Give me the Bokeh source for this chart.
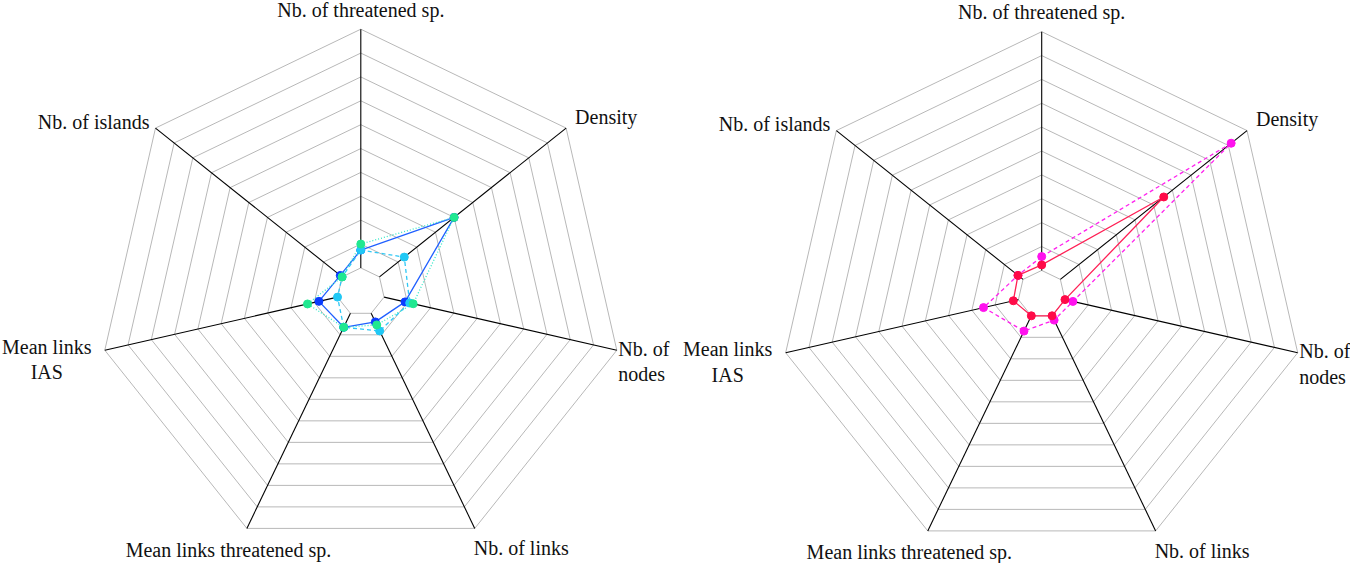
import math
from bokeh.plotting import figure
from bokeh.models import Range1d
from bokeh.layouts import row
from bokeh.embed import file_html
from bokeh.resources import INLINE
from bokeh.core.properties import value

# ---------------- data ----------------
axis_labels = ["Nb. of threatened sp.", "Density", "Nb. of\nnodes", "Nb. of links",
               "Mean links threatened sp.", "Mean links\nIAS", "Nb. of islands"]
n_rings = 10  # grid steps between hub and outer ring

# left panel (values on 0-10 scale, 0 = hub)
left_blue = [0.75, 4.0, 0.9, 0.4, 0.65, 0.8, 0.1]
left_cyan = [0.75, 1.33, 1.1, 0.82, 0.65, 0.0, 0.0]
left_green = [1.0, 4.0, 1.25, 0.54, 0.65, 1.29, 0.0]

# right panel
right_magenta = [0.58, 9.15, 0.34, 0.2, 0.71, 1.5, 0.27]
right_red = [0.23, 5.54, 0.0, 0.0, 0.0, 0.22, 0.27]

# ---------------- layout ----------------
W, H = 675, 563
S = 262.6 / 11.0   # px per ring unit
FONT = "Liberation Serif"
N = len(axis_labels)
ang = [2 * math.pi * k / N for k in range(N)]

# label placement: (align, baseline, dx px, dy px)
label_style = [
    ("center", "alphabetic", 0, -19.7),
    ("left", "alphabetic", 9, -11.4),
    ("left", "top", 1.5, -12.5),
    ("left", "alphabetic", -1, 20),
    ("center", "alphabetic", -18.4, 21.5),
    ("center", "top", -58, -14.5),
    ("right", "alphabetic", -6, -6.4),
]


def pol(r, k):
    return r * math.sin(ang[k]), r * math.cos(ang[k])


def make_panel(cx, cy, series):
    p = figure(width=W, height=H, output_backend="svg", toolbar_location=None,
               x_range=Range1d(-cx / S, (W - cx) / S),
               y_range=Range1d(-(H - cy) / S, cy / S),
               min_border=0, outline_line_color=None)
    p.axis.visible = False
    p.grid.visible = False
    p.background_fill_color = "white"
    # grid heptagons
    xs, ys = [], []
    for ring in range(1, n_rings + 2):
        pts = [pol(ring, k) for k in range(N)] + [pol(ring, 0)]
        xs.append([a for a, b in pts])
        ys.append([b for a, b in pts])
    p.multi_line(xs, ys, line_color="#b8b8b8", line_width=1)
    # axes
    axs, ays = [], []
    for k in range(N):
        x0, y0 = pol(1, k)
        x1, y1 = pol(n_rings + 1, k)
        axs.append([x0, x1])
        ays.append([y0, y1])
    p.multi_line(axs, ays, line_color="black", line_width=1.1)
    # series
    for vals, lcol, mcol, dash in series:
        pts = [pol(1 + v, k) for k, v in enumerate(vals)]
        lx = [a for a, b in pts] + [pts[0][0]]
        ly = [b for a, b in pts] + [pts[0][1]]
        p.line(lx, ly, line_color=lcol, line_width=1.3, line_dash=dash)
    for vals, lcol, mcol, dash in series:
        pts = [pol(1 + v, k) for k, v in enumerate(vals)]
        p.scatter([a for a, b in pts], [b for a, b in pts], size=8,
                  fill_color=mcol, line_color=mcol)
    # labels
    for k, lab in enumerate(axis_labels):
        vx, vy = pol(n_rings + 1, k)
        al, bl, dx, dy = label_style[k]
        p.text([vx], [vy], text=[lab], text_font=value(FONT), text_font_size="20px",
               text_color="#111111", text_align=al, text_baseline=bl,
               x_offset=dx, y_offset=dy, text_line_height=1.15)
    return p


left = make_panel(360.3, 291.3, [
    (left_blue, "#2060ff", "#0a3cff", "solid"),
    (left_cyan, "#30c8f5", "#20c8f5", "4 3"),
    (left_green, "#30e8c8", "#20e890", "1 2"),
])
right = make_panel(366.2, 293.8, [
    (right_magenta, "#ff22ee", "#ff11ee", "4 3"),
    (right_red, "#ff2055", "#ff0a48", "solid"),
])

layout = row(left, right)
open("out.html", "w").write(file_html(layout, INLINE))
